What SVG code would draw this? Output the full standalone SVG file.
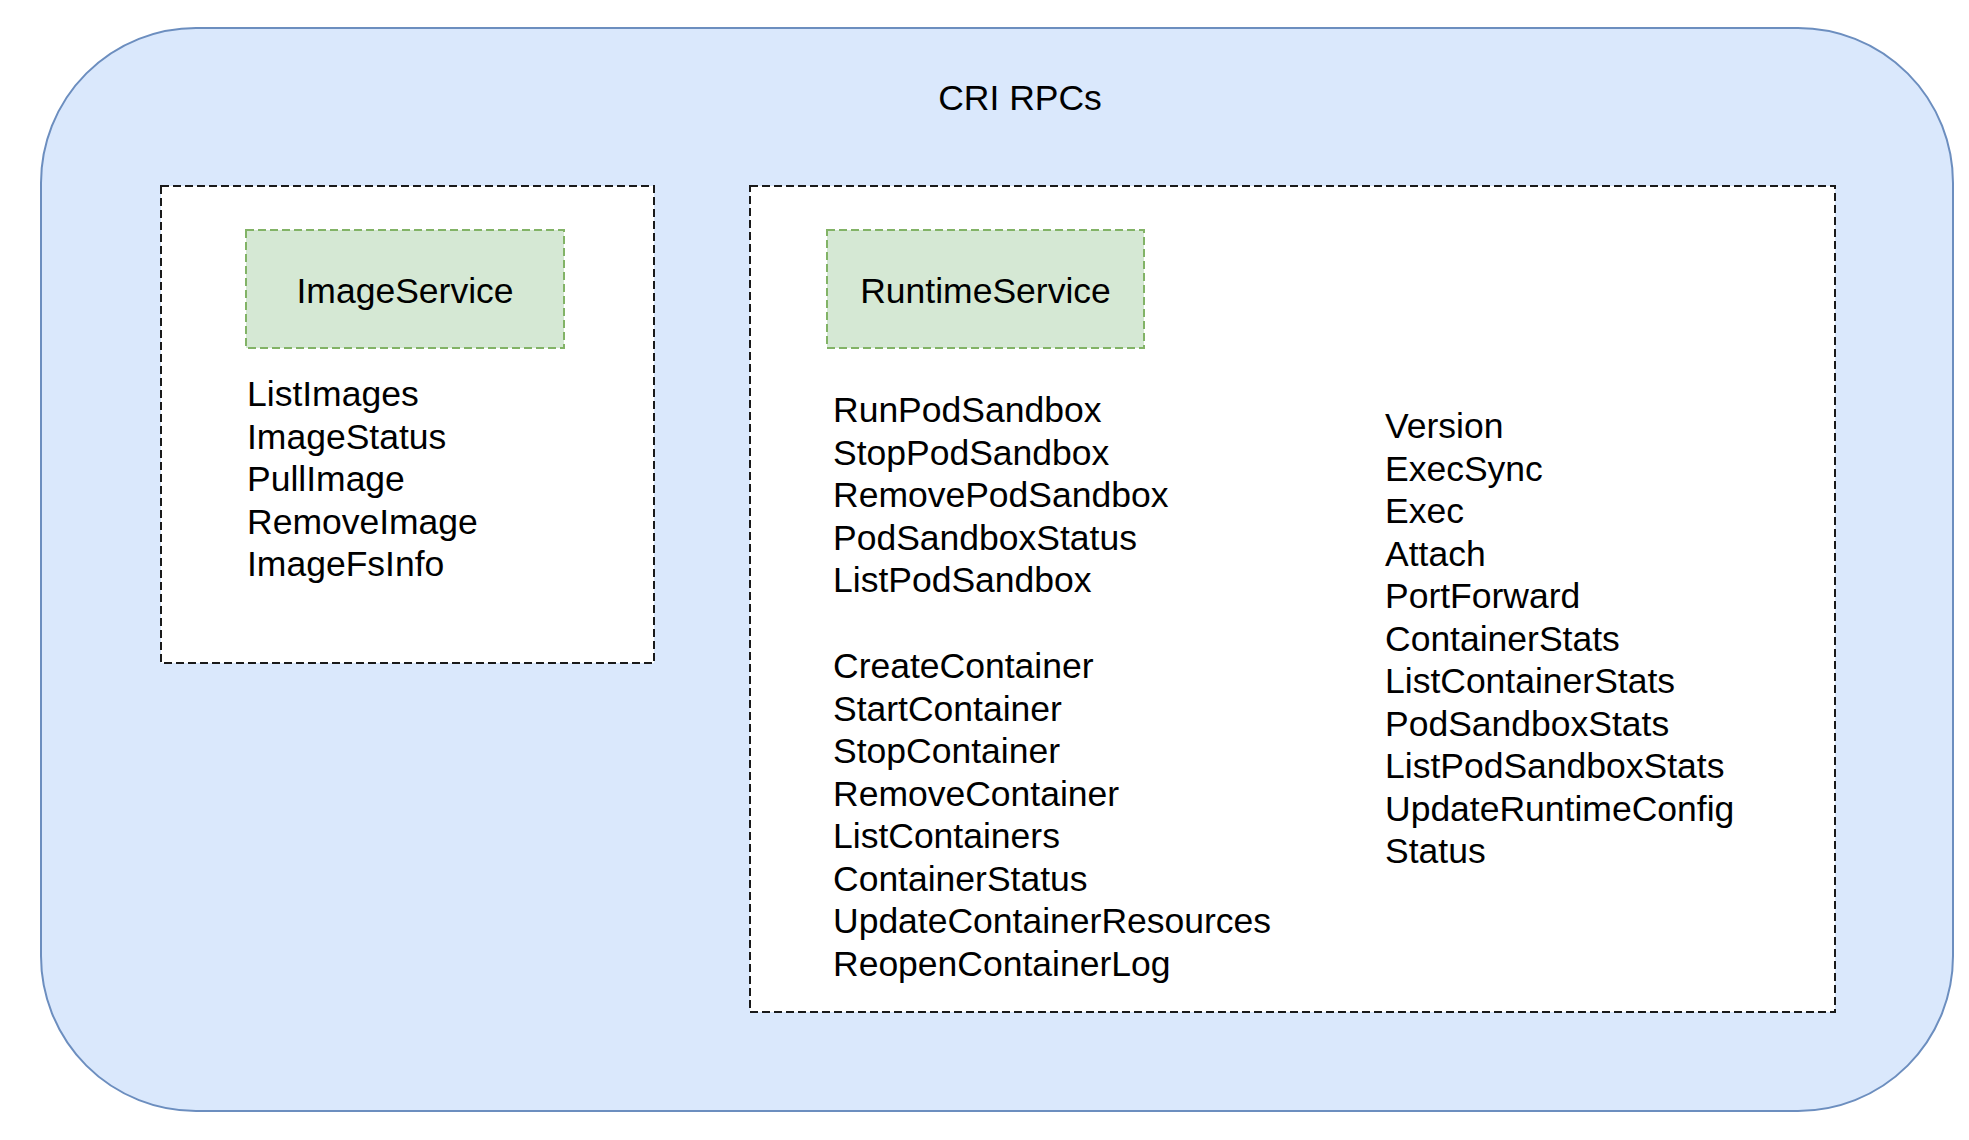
<svg xmlns="http://www.w3.org/2000/svg" width="1969" height="1140" viewBox="0 0 1969 1140">
<style>
  text { font-family: "Liberation Sans", Arial, Helvetica, sans-serif; font-size: 35.5px; fill: #000; }
  .outer { fill: #dae8fc; stroke: #6c8ebf; stroke-width: 2; }
  .group { fill: #ffffff; stroke: #1a1a1a; stroke-width: 2; stroke-dasharray: 8 4; }
  .svc { fill: #d5e8d4; stroke: #82b366; stroke-width: 2; stroke-dasharray: 8 4; }
  .c { text-anchor: middle; }
</style>
<rect width="1969" height="1140" fill="#ffffff"/>
<g id="cri-rpcs">
  <rect class="outer" x="41" y="28" width="1912" height="1083" rx="155" ry="155"/>
  <text class="c" x="1020" y="110">CRI RPCs</text>
</g>
<g id="image-group">
  <rect class="group" x="161" y="186" width="493" height="477"/>
</g>
<g id="runtime-group">
  <rect class="group" x="750" y="186" width="1085" height="826"/>
</g>
<g id="image-service">
  <rect class="svc" x="246" y="230" width="318" height="118"/>
  <text class="c" x="405" y="303">ImageService</text>
</g>
<g id="image-rpcs">
  <text x="247" y="406">ListImages</text>
  <text x="247" y="448.5">ImageStatus</text>
  <text x="247" y="491">PullImage</text>
  <text x="247" y="533.5">RemoveImage</text>
  <text x="247" y="576">ImageFsInfo</text>
</g>
<g id="runtime-service">
  <rect class="svc" x="827" y="230" width="317" height="118"/>
  <text class="c" x="985.5" y="303">RuntimeService</text>
</g>
<g id="sandbox-rpcs">
  <text x="833" y="422">RunPodSandbox</text>
  <text x="833" y="464.5">StopPodSandbox</text>
  <text x="833" y="507">RemovePodSandbox</text>
  <text x="833" y="549.5">PodSandboxStatus</text>
  <text x="833" y="592">ListPodSandbox</text>
</g>
<g id="container-rpcs">
  <text x="833" y="678">CreateContainer</text>
  <text x="833" y="720.5">StartContainer</text>
  <text x="833" y="763">StopContainer</text>
  <text x="833" y="805.5">RemoveContainer</text>
  <text x="833" y="848">ListContainers</text>
  <text x="833" y="890.5">ContainerStatus</text>
  <text x="833" y="933">UpdateContainerResources</text>
  <text x="833" y="975.5">ReopenContainerLog</text>
</g>
<g id="other-rpcs">
  <text x="1385" y="438">Version</text>
  <text x="1385" y="480.5">ExecSync</text>
  <text x="1385" y="523">Exec</text>
  <text x="1385" y="565.5">Attach</text>
  <text x="1385" y="608">PortForward</text>
  <text x="1385" y="650.5">ContainerStats</text>
  <text x="1385" y="693">ListContainerStats</text>
  <text x="1385" y="735.5">PodSandboxStats</text>
  <text x="1385" y="778">ListPodSandboxStats</text>
  <text x="1385" y="820.5">UpdateRuntimeConfig</text>
  <text x="1385" y="863">Status</text>
</g>
<g id="connectors"></g>
</svg>
